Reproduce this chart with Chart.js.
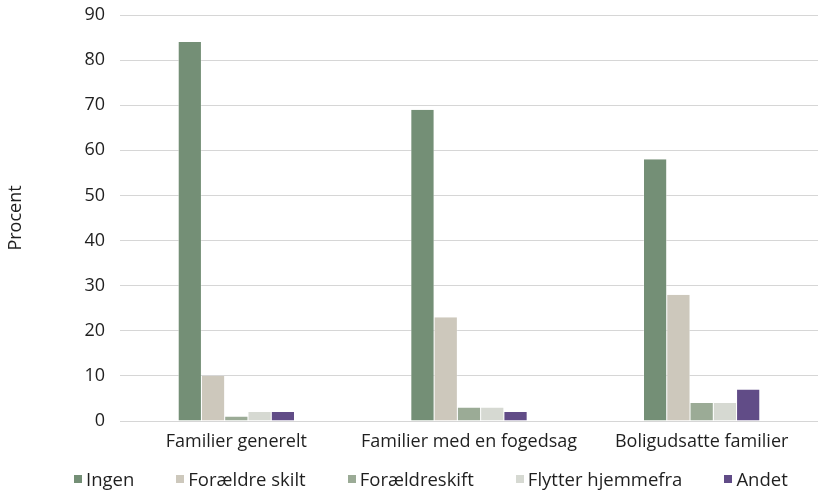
<!DOCTYPE html>
<html>
<head>
<meta charset="utf-8">
<script src="https://cdn.jsdelivr.net/npm/chart.js@4"></script>
<style>
  html, body { margin: 0; padding: 0; background: #fff; }
  #wrap { position: relative; width: 818px; height: 491px; }
  #legend {
    position: absolute; left: 74px; top: 469px;
    display: flex; font: 18.5px "Open Sans", sans-serif; color: #1f1f1f;
    line-height: 20px; white-space: nowrap;
  }
  #legend .item { display: flex; align-items: center; margin-right: 42px; }
  #legend .box { width: 8px; height: 8px; margin-right: 4px; }
</style>
</head>
<body>
<div id="wrap">
  <canvas id="chart"></canvas>
  <div id="legend"></div>
</div>
<script>
// data
const categories = ['Familier generelt', 'Familier med en fogedsag', 'Boligudsatte familier'];
const seriesNames = ['Ingen', 'Forældre skilt', 'Forældreskift', 'Flytter hjemmefra', 'Andet'];
const ingen = [84, 69, 58];
const foraeldreSkilt = [10, 23, 28];
const foraeldreskift = [1, 3, 4];
const flytter = [2, 3, 4];
const andet = [2, 2, 7];
const yTicks = [0, 10, 20, 30, 40, 50, 60, 70, 80, 90];

const colors = ['#748f76', '#cdc8bc', '#9bab96', '#d6d9d2', '#614c87'];
const values = [ingen, foraeldreSkilt, foraeldreskift, flytter, andet];

const FONT = '"Open Sans", sans-serif';
const TXT = '#1f1f1f';

const chart = new Chart(document.getElementById('chart'), {
    type: 'bar',
    data: {
        labels: categories,
        datasets: seriesNames.map((name, i) => ({
            label: name,
            data: values[i],
            backgroundColor: colors[i],
            borderColor: '#ffffff',
            borderWidth: { left: 0.5, right: 0.5, top: 0, bottom: 0 },
            borderSkipped: false,
            barPercentage: 1,
            categoryPercentage: 0.5
        }))
    },
    options: {
        responsive: true,
        maintainAspectRatio: false,
        animation: false,
        layout: { padding: { left: 0, right: 0, top: 15, bottom: 40 } },
        plugins: {
            legend: { display: false },
            tooltip: { enabled: false }
        },
        scales: {
            x: {
                grid: { display: false, drawTicks: false },
                border: { display: false },
                ticks: { color: TXT, font: { family: FONT, size: 18 }, padding: 10, maxRotation: 0 },
                afterFit: axis => {
                    axis.height = 30;
                    axis.paddingLeft = 0;
                    axis.paddingRight = 0;
                }
            },
            y: {
                min: 0,
                max: 90,
                afterBuildTicks: axis => { axis.ticks = yTicks.map(v => ({ value: v })); },
                grid: { color: '#d6d6d6', lineWidth: 1, drawTicks: false },
                border: { display: false },
                ticks: { color: TXT, font: { family: FONT, size: 18 }, padding: 15 },
                title: {
                    display: true,
                    text: 'Procent',
                    color: TXT,
                    font: { family: FONT, size: 18 },
                    padding: { top: 5, bottom: 0 }
                },
                afterFit: axis => {
                    axis.width = 120;
                    axis.paddingTop = 0;
                    axis.paddingBottom = 0;
                }
            }
        }
    }
});

// legend built from the same series names and colours
const legendEl = document.getElementById('legend');
seriesNames.forEach((name, i) => {
    const item = document.createElement('span');
    item.className = 'item';
    const box = document.createElement('span');
    box.className = 'box';
    box.style.background = colors[i];
    item.appendChild(box);
    item.appendChild(document.createTextNode(name));
    legendEl.appendChild(item);
});
</script>
</body>
</html>
